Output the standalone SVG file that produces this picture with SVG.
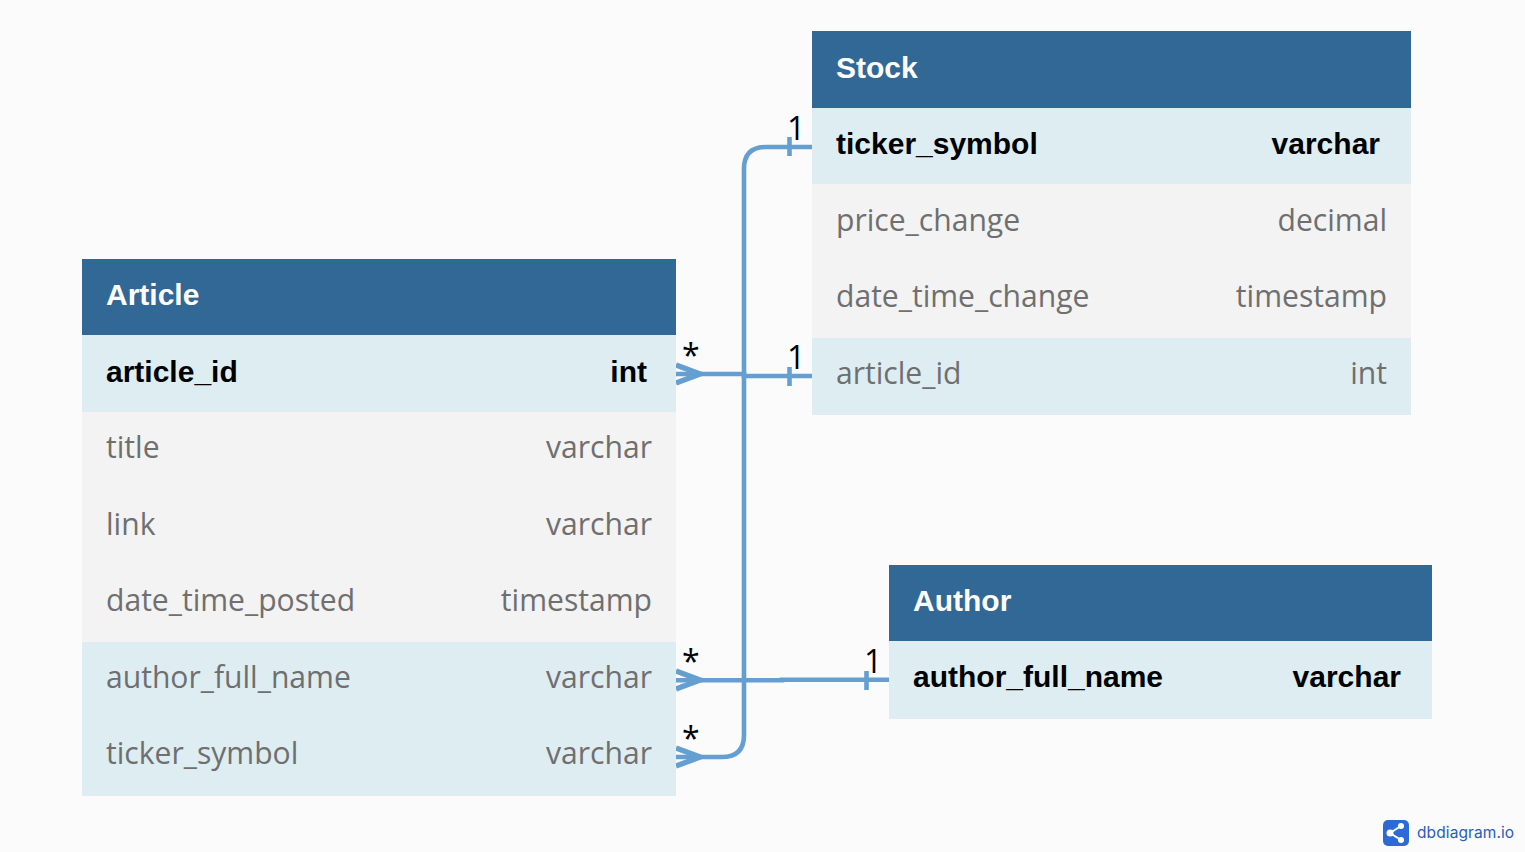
<svg xmlns="http://www.w3.org/2000/svg" width="1525" height="852" viewBox="0 0 1525 852">
<style>
.hd{fill:#316896}.pk{fill:#deedf2}.gr{fill:#f3f3f3}
.t{font-family:"Liberation Sans",Arial,sans-serif;font-weight:700;font-size:30px;fill:#fff}
.b{font-family:"Liberation Sans",Arial,sans-serif;font-weight:700;font-size:30px;fill:#000}
.n{font-family:"Open Sans","Noto Sans",sans-serif;font-size:30.100px;fill:#6f6f6f}
.e{text-anchor:end}
.c{fill:none;stroke:#659fd1;stroke-width:4.6}
.a{fill:none;stroke:#659fd1;stroke-width:5.500}
.m{font-family:"Open Sans","Noto Sans",sans-serif;font-size:32px;fill:#000}
</style>
<rect width="1525" height="852" fill="#fbfbfb"/>
<g id="connectors">
<path class="c" d="M676 757H722Q744 757 744 735V169Q744 147 766 147H812"/>
<path class="c" d="M676 374H744V376H812"/>
<path class="c" d="M676 680.200H782V679.800H889"/>
<path class="a" d="M676 365L700 374L676 383M676 671L700 680L676 689M676 748L700 757L676 766"/>
<path class="c" d="M789.500 137V156M789.500 367V386M866.500 671V690"/>
<text class="m" x="682" y="367">*</text><text class="m" x="682" y="673">*</text><text class="m" x="682" y="750">*</text>
<text class="m" x="787" y="140">1</text><text class="m" x="787" y="369">1</text><text class="m" x="864" y="673">1</text>
</g>
<g id="article">
<rect class="hd" x="82" y="259" width="594" height="76"/>
<rect class="pk" x="82" y="335" width="594" height="77"/>
<rect class="gr" x="82" y="412" width="594" height="230"/>
<rect class="pk" x="82" y="642" width="594" height="154"/>
<text class="t" x="106" y="305">Article</text>
<text class="b" x="106" y="382">article_id</text><text class="b e" x="647" y="382">int</text>
<text class="n" x="106" y="458">title</text><text class="n e" x="652" y="458">varchar</text>
<text class="n" x="106" y="535">link</text><text class="n e" x="652" y="535">varchar</text>
<text class="n" x="106" y="611">date_time_posted</text><text class="n e" x="652" y="611">timestamp</text>
<text class="n" x="106" y="688">author_full_name</text><text class="n e" x="652" y="688">varchar</text>
<text class="n" x="106" y="764">ticker_symbol</text><text class="n e" x="652" y="764">varchar</text>
</g>
<g id="stock">
<rect class="hd" x="812" y="31" width="599" height="77"/>
<rect class="pk" x="812" y="108" width="599" height="76"/>
<rect class="gr" x="812" y="184" width="599" height="154"/>
<rect class="pk" x="812" y="338" width="599" height="77"/>
<text class="t" x="836" y="78">Stock</text>
<text class="b" x="836" y="154">ticker_symbol</text><text class="b e" x="1380" y="154">varchar</text>
<text class="n" x="836" y="231">price_change</text><text class="n e" x="1387" y="231">decimal</text>
<text class="n" x="836" y="307">date_time_change</text><text class="n e" x="1387" y="307">timestamp</text>
<text class="n" x="836" y="384">article_id</text><text class="n e" x="1387" y="384">int</text>
</g>
<g id="author">
<rect class="hd" x="889" y="565" width="543" height="76"/>
<rect class="pk" x="889" y="641" width="543" height="78"/>
<text class="t" x="913" y="611">Author</text>
<text class="b" x="913" y="687">author_full_name</text><text class="b e" x="1401" y="687">varchar</text>
</g>
<g id="logo">
<rect x="1383" y="820" width="26" height="26" rx="5" fill="#2c6bd6"/>
<path d="M1401 826L1390 833L1401 840" fill="none" stroke="#fff" stroke-width="2"/>
<circle cx="1401" cy="826" r="3" fill="#fff"/><circle cx="1390" cy="833" r="3.500" fill="#fff"/><circle cx="1401" cy="840" r="3" fill="#fff"/>
<text x="1417" y="838" font-family="Inter,'Open Sans',sans-serif" font-size="15.500" letter-spacing="0.100" fill="#2a5db8">dbdiagram.io</text>
</g>
</svg>
